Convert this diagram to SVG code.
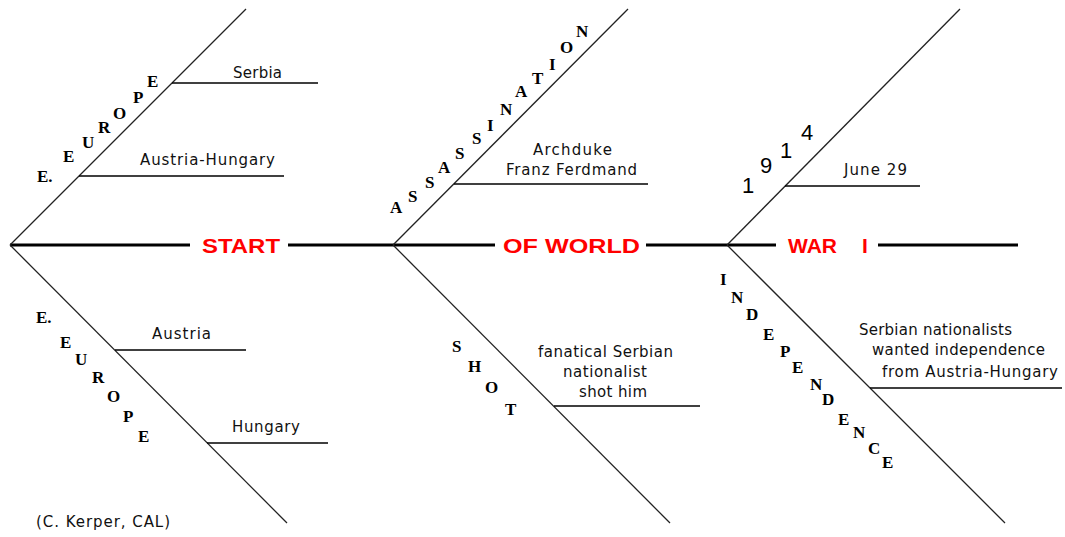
<svg xmlns="http://www.w3.org/2000/svg" width="1065" height="537" viewBox="0 0 1065 537">
<style>
.spine{stroke:#000;stroke-width:3;fill:none}
.bone{stroke:#222;stroke-width:1.3;fill:none}
.rib{stroke:#000;stroke-width:1.6;fill:none}
.red{font-family:"Liberation Sans",Arial,sans-serif;font-weight:bold;font-size:21px;fill:#ff0000}
.lab{font-family:"DejaVu Sans","Liberation Sans",sans-serif;font-size:15px;fill:#111}
.let{font-family:"Liberation Serif","Times New Roman",serif;font-weight:bold;font-size:17px;fill:#000}
.dig{font-family:"Liberation Sans",Arial,sans-serif;font-size:22px;fill:#000}
</style>
<rect width="1065" height="537" fill="#fff"/>
<g id="connectors">
<line class="spine" x1="10" y1="245" x2="190" y2="245"/>
<line class="spine" x1="288" y1="245" x2="495" y2="245"/>
<line class="spine" x1="646" y1="245" x2="776" y2="245"/>
<line class="spine" x1="878" y1="245" x2="1018" y2="245"/>
<line class="bone" x1="10" y1="245" x2="246" y2="9"/>
<line class="bone" x1="10" y1="245" x2="287" y2="523"/>
<line class="bone" x1="393" y1="245" x2="628" y2="9"/>
<line class="bone" x1="393" y1="245" x2="670" y2="523"/>
<line class="bone" x1="727" y1="245" x2="960" y2="9"/>
<line class="bone" x1="727" y1="245" x2="1005" y2="523"/>
<line class="rib" x1="172" y1="83" x2="318" y2="83"/>
<line class="rib" x1="79" y1="176" x2="284" y2="176"/>
<line class="rib" x1="115" y1="350" x2="246" y2="350"/>
<line class="rib" x1="207" y1="443" x2="328" y2="443"/>
<line class="rib" x1="454" y1="184" x2="648" y2="184"/>
<line class="rib" x1="554" y1="406" x2="700" y2="406"/>
<line class="rib" x1="785" y1="186" x2="920" y2="186"/>
<line class="rib" x1="870" y1="388" x2="1062" y2="388"/>
</g>
<g id="title-start"><text class="red" x="202" y="253" textLength="78" lengthAdjust="spacingAndGlyphs">START</text></g>
<g id="title-ofworld"><text class="red" x="503" y="253" textLength="137" lengthAdjust="spacingAndGlyphs">OF WORLD</text></g>
<g id="title-war"><text class="red" x="788" y="253">WAR<tspan x="862">I</tspan></text></g>
<g id="europe-top">
<text class="let" x="37" y="182">E.</text>
<text class="let" x="63" y="162">E</text>
<text class="let" x="82" y="148">U</text>
<text class="let" x="98" y="133">R</text>
<text class="let" x="113" y="119">O</text>
<text class="let" x="133" y="103">P</text>
<text class="let" x="147" y="87">E</text>
</g>
<g id="serbia"><text class="lab" x="233" y="78" textLength="49">Serbia</text></g>
<g id="austria-hungary"><text class="lab" x="140" y="165" textLength="135">Austria-Hungary</text></g>
<g id="europe-bottom">
<text class="let" x="36" y="323">E.</text>
<text class="let" x="60" y="348">E</text>
<text class="let" x="75" y="365">U</text>
<text class="let" x="92" y="383">R</text>
<text class="let" x="107" y="402">O</text>
<text class="let" x="123" y="422">P</text>
<text class="let" x="138" y="442">E</text>
</g>
<g id="austria"><text class="lab" x="152" y="339" textLength="59">Austria</text></g>
<g id="hungary"><text class="lab" x="232" y="432" textLength="68">Hungary</text></g>
<g id="credit"><text class="lab" x="36" y="527" textLength="134">(C. Kerper, CAL)</text></g>
<g id="assassination">
<text class="let" x="390" y="213">A</text>
<text class="let" x="408" y="202">S</text>
<text class="let" x="425" y="188">S</text>
<text class="let" x="438" y="173">A</text>
<text class="let" x="455" y="159">S</text>
<text class="let" x="472" y="144">S</text>
<text class="let" x="487" y="131">I</text>
<text class="let" x="500" y="115">N</text>
<text class="let" x="515" y="97">A</text>
<text class="let" x="532" y="84">T</text>
<text class="let" x="549" y="70">I</text>
<text class="let" x="560" y="53">O</text>
<text class="let" x="576" y="37">N</text>
</g>
<g id="archduke">
<text class="lab" x="533" y="155" textLength="79">Archduke</text>
<text class="lab" x="506" y="175" textLength="131">Franz Ferdmand</text>
</g>
<g id="shot">
<text class="let" x="452" y="352">S</text>
<text class="let" x="468" y="372">H</text>
<text class="let" x="485" y="393">O</text>
<text class="let" x="505" y="415">T</text>
</g>
<g id="fanatical">
<text class="lab" x="538" y="357" textLength="135">fanatical Serbian</text>
<text class="lab" x="563" y="377" textLength="84">nationalist</text>
<text class="lab" x="579" y="397" textLength="68">shot him</text>
</g>
<g id="year">
<text class="dig" x="742" y="193">1</text>
<text class="dig" x="760" y="173">9</text>
<text class="dig" x="780" y="158">1</text>
<text class="dig" x="801" y="140">4</text>
</g>
<g id="june"><text class="lab" x="844" y="175" textLength="63">June 29</text></g>
<g id="independence">
<text class="let" x="720" y="285">I</text>
<text class="let" x="731" y="303">N</text>
<text class="let" x="746" y="320">D</text>
<text class="let" x="763" y="340">E</text>
<text class="let" x="780" y="357">P</text>
<text class="let" x="792" y="373">E</text>
<text class="let" x="810" y="390">N</text>
<text class="let" x="822" y="405">D</text>
<text class="let" x="838" y="425">E</text>
<text class="let" x="853" y="438">N</text>
<text class="let" x="868" y="454">C</text>
<text class="let" x="882" y="468">E</text>
</g>
<g id="nationalists">
<text class="lab" x="859" y="335" textLength="153">Serbian nationalists</text>
<text class="lab" x="872" y="355" textLength="173">wanted independence</text>
<text class="lab" x="882" y="377" textLength="176">from Austria-Hungary</text>
</g>
</svg>
